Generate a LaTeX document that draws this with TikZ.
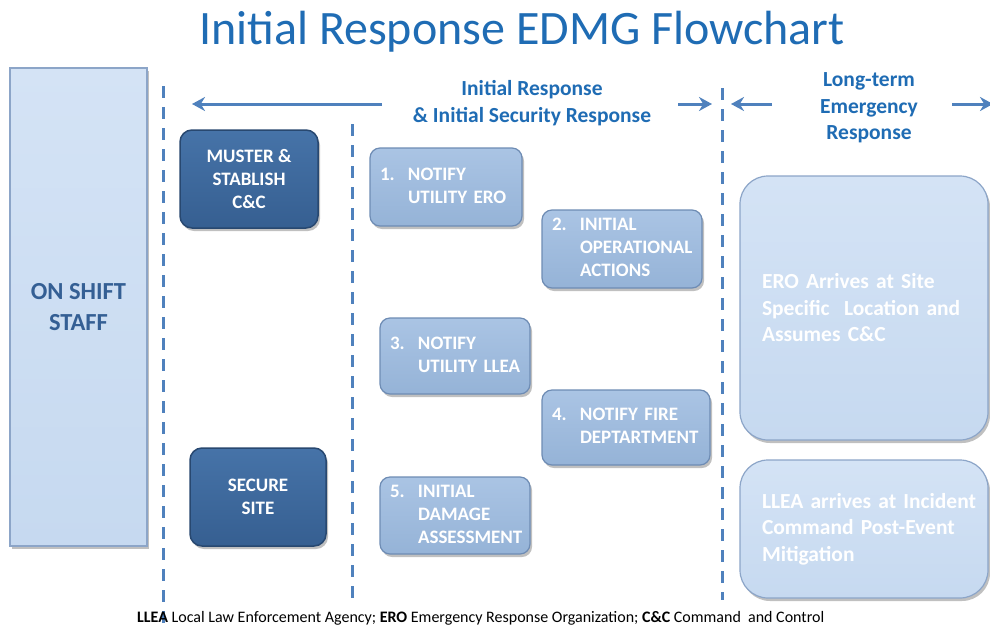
\documentclass[tikz,border=0pt]{standalone}
\usepackage{fontspec}
\setmainfont{Carlito}
\usetikzlibrary{arrows.meta,shadows}
\definecolor{titleblue}{RGB}{31,108,180}
\definecolor{lineblue}{RGB}{79,129,189}
\definecolor{darkfill}{RGB}{54,95,145}
\definecolor{darktop}{RGB}{70,115,168}
\definecolor{darkedge}{RGB}{40,72,112}
\definecolor{midfill}{RGB}{149,179,215}
\definecolor{midtop}{RGB}{170,196,228}
\definecolor{midedge}{RGB}{110,140,180}
\definecolor{palefill}{RGB}{198,217,240}
\definecolor{paletop}{RGB}{212,227,245}
\definecolor{paleedge}{RGB}{140,165,200}
\definecolor{stafftext}{RGB}{52,95,148}
\newcommand{\numlist}[1]{\begin{tabular}{@{}p{28pt}@{}l@{}}#1\end{tabular}}
\begin{document}
\begin{tikzpicture}[x=1pt,y=-1pt,
  shadowed/.style={drop shadow={shadow xshift=2pt,shadow yshift=-3pt,opacity=0.35,fill=black!70}},
  darkbox/.style={shadowed,rounded corners=12pt,draw=darkedge,line width=1.5pt,top color=darktop,bottom color=darkfill,
    text=white,align=center,font=\bfseries\fontsize{19}{23}\selectfont,inner sep=0pt},
  numbox/.style={shadowed,rounded corners=10pt,draw=midedge,line width=1.2pt,top color=midtop,bottom color=midfill,
    text=white,align=left,font=\bfseries\fontsize{19}{23}\selectfont,inner xsep=10pt,inner ysep=0pt},
  bigbox/.style={shadowed,rounded corners=28pt,draw=paleedge,line width=1.2pt,top color=paletop,bottom color=palefill,
    text=white,align=left,font=\bfseries\fontsize{21.5}{26.5}\selectfont,inner xsep=22pt,inner ysep=0pt},
  divider/.style={draw=lineblue,line width=3pt,dash pattern=on 12pt off 9pt},
  flow/.style={draw=lineblue,line width=3pt,-{Stealth[length=13pt,width=14pt]}},
  phase/.style={text=titleblue,align=center,font=\bfseries\fontsize{21.5}{26.5}\selectfont}]
\useasboundingbox (0,0) rectangle (990,627);
\fill[white] (0,0) rectangle (990,627);

% title
\node[text=titleblue,font=\fontsize{48}{54}\selectfont] (title) at (522,32) {Initial Response EDMG Flowchart};

% on shift staff
\node[shadowed,draw=paleedge,line width=1.2pt,top color=paletop,bottom color=palefill,minimum width=137pt,minimum height=478pt,
  text=stafftext,align=center,font=\bfseries\fontsize{24.5}{31}\selectfont] (staff) at (78.5,307) {ON SHIFT\\STAFF};

% dividers
\coordinate (d1t) at (163,86);  \coordinate (d1b) at (163,624);
\coordinate (d2t) at (352,124); \coordinate (d2b) at (352,606);
\coordinate (d3t) at (722,88);  \coordinate (d3b) at (722,600);
\draw[divider] (d1t) -- (d1b);
\draw[divider] (d2t) -- (d2b);
\draw[divider] (d3t) -- (d3b);

% phase labels and arrows
\node[phase] (initial) at (532,103) {Initial Response\\\& Initial Security Response};
\node[phase] (longterm) at (869,108) {Long-term\\Emergency\\Response};
\coordinate (a1s) at (382,104); \coordinate (a1e) at (192,104);
\coordinate (a2s) at (678,104); \coordinate (a2e) at (712,104);
\coordinate (a3s) at (772,104); \coordinate (a3e) at (731,104);
\coordinate (a4s) at (952,104); \coordinate (a4e) at (993,104);
\draw[flow] (a1s) -- (a1e);
\draw[flow] (a2s) -- (a2e);
\draw[flow] (a3s) -- (a3e);
\draw[flow] (a4s) -- (a4e);

% left column
\node[darkbox,minimum width=138pt,minimum height=98pt] (muster) at (249,179) {MUSTER \&\\STABLISH\\C\&C};
\node[darkbox,minimum width=136pt,minimum height=98pt] (secure) at (258,497) {SECURE\\SITE};

% numbered steps
\node[numbox,text width=132pt,minimum height=78pt] (n1) at (446,187) {\numlist{1. & NOTIFY\\ & UTILITY ERO}};
\node[numbox,text width=140pt,minimum height=78pt] (n2) at (622,249) {\numlist{2. & INITIAL\\ & OPERATIONAL\\ & ACTIONS}};
\node[numbox,text width=130pt,minimum height=76pt] (n3) at (455,356) {\numlist{3. & NOTIFY\\ & UTILITY LLEA}};
\node[numbox,text width=148pt,minimum height=75pt] (n4) at (626,427.5) {\numlist{4. & NOTIFY FIRE\\ & DEPTARTMENT}};
\node[numbox,text width=130pt,minimum height=77pt] (n5) at (455,515.5) {\numlist{5. & INITIAL\\ & DAMAGE\\ & ASSESSMENT}};

% long-term boxes
\node[bigbox,text width=204pt,minimum height=264pt] (ero) at (864,308) {\mbox{ERO Arrives at Site}\\\mbox{Specific\ \ Location and}\\\mbox{Assumes C\&C}};
\node[bigbox,text width=204pt,minimum height=138pt] (llea) at (864,529) {\mbox{LLEA arrives at Incident}\\\mbox{Command Post-Event}\\\mbox{Mitigation}};

% footnote
\node[anchor=west,inner sep=0pt,font=\fontsize{16}{18}\selectfont] (note) at (137,618)
  {\textbf{LLEA} Local Law Enforcement Agency; \textbf{ERO} Emergency Response Organization; \textbf{C\&C} Command\ \ and Control};
\end{tikzpicture}
\end{document}
